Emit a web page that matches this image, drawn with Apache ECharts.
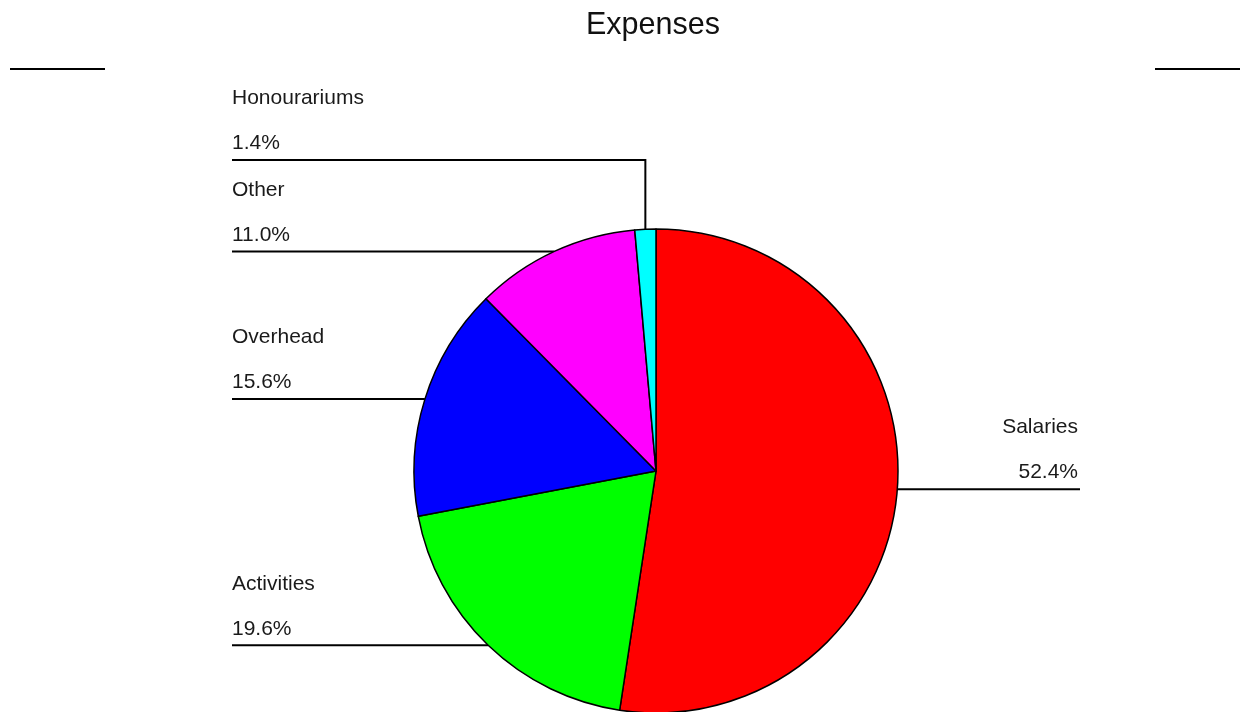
<!DOCTYPE html>
<html>
<head>
<meta charset="utf-8">
<script src="https://cdn.jsdelivr.net/npm/echarts@6/dist/echarts.min.js"></script>
<style>
html,body{margin:0;padding:0;background:#fff;}
#chart{width:1241px;height:712px;}
</style>
</head>
<body>
<div id="chart"></div>
<script>
// ---- data ----
const categories = ['Salaries', 'Activities', 'Overhead', 'Other', 'Honourariums'];
const values = [52.4, 19.6, 15.6, 11.0, 1.4];
const colors = ['#ff0000', '#00ff00', '#0000ff', '#ff00ff', '#00ffff'];

// ---- layout (label anchor positions) ----
const CX = 656, CY = 471, R = 242;
const labelSide = ['right', 'left', 'left', 'left', 'left'];
const labelFixedLineY = [null, null, null, null, 160];
const LEFT_X = 232, RIGHT_X = 1080;

const total = values.reduce((a, b) => a + b, 0);
function edgePoint(i) {
  let cum = 0;
  for (let k = 0; k < i; k++) cum += values[k];
  const mid = cum + values[i] / 2;
  const ang = (90 - 360 * mid / total) * Math.PI / 180;
  return [CX + R * Math.cos(ang), CY - R * Math.sin(ang)];
}

const chart = echarts.init(document.getElementById('chart'));
const font = '"Liberation Sans", Arial, sans-serif';

chart.setOption({
  backgroundColor: '#fff',
  animation: false,
  title: {
    text: 'Expenses',
    left: 581,
    top: 5,
    textStyle: { fontFamily: font, fontSize: 30.5, fontWeight: 'normal', color: '#111' }
  },
  graphic: [
    { type: 'line', shape: { x1: 10, y1: 69, x2: 105, y2: 69 }, style: { stroke: '#000', lineWidth: 2 } },
    { type: 'line', shape: { x1: 1155, y1: 69, x2: 1240, y2: 69 }, style: { stroke: '#000', lineWidth: 2 } }
  ],
  series: [{
    type: 'pie',
    center: [CX, CY],
    radius: R,
    startAngle: 90,
    clockwise: true,
    avoidLabelOverlap: false,
    data: categories.map((c, i) => ({ name: c, value: values[i], itemStyle: { color: colors[i] } })),
    itemStyle: { borderColor: '#000', borderWidth: 1.5 },
    label: {
      show: true,
      position: 'outside',
      fontFamily: font,
      fontSize: 21,
      color: '#1a1a1a',
      lineHeight: 45,
      formatter: p => p.name + '\n' + (p.value / total * 100).toFixed(1) + '%'
    },
    labelLine: { show: true, length: 20, length2: 20, lineStyle: { color: '#000', width: 2 } },
    emphasis: { disabled: true },
    labelLayout: function (params) {
      const i = params.dataIndex;
      const p0 = edgePoint(i);
      const lineY = labelFixedLineY[i] != null ? labelFixedLineY[i] : p0[1];
      let pts;
      if (labelSide[i] === 'left') {
        pts = [p0, [p0[0], lineY], [LEFT_X, lineY]];
        return { x: LEFT_X, y: lineY + 6, align: 'left', verticalAlign: 'bottom', labelLinePoints: pts };
      } else {
        pts = [p0, [p0[0], lineY], [RIGHT_X, lineY]];
        return { x: RIGHT_X - 2, y: lineY + 5, align: 'right', verticalAlign: 'bottom', labelLinePoints: pts };
      }
    }
  }]
});
</script>
</body>
</html>
